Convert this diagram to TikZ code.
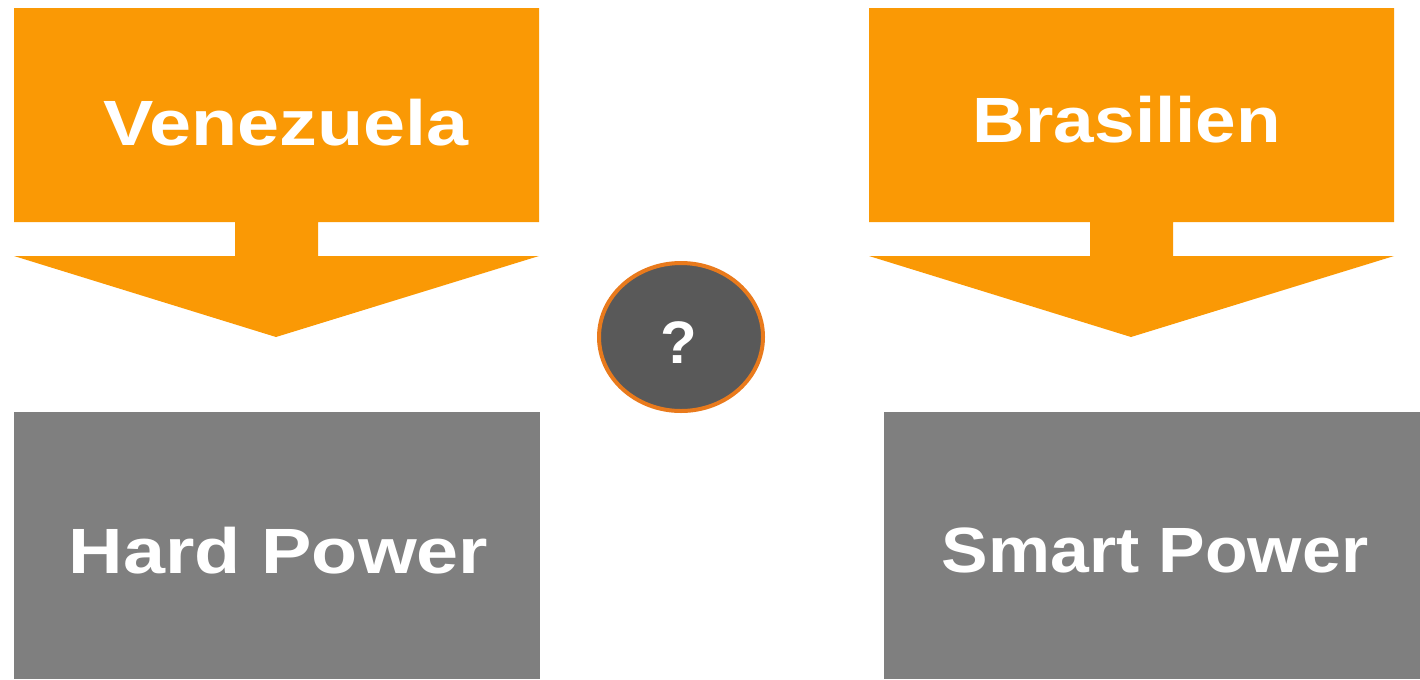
\documentclass[tikz,border=0pt]{standalone}
\usepackage{fontspec}
\setmainfont{Liberation Sans}
\usetikzlibrary{shapes.geometric}
\definecolor{calloutorange}{RGB}{250,153,5}
\definecolor{boxgray}{RGB}{127,127,127}
\definecolor{ballgray}{RGB}{89,89,89}
\definecolor{ringorange}{RGB}{233,122,28}
\newcommand{\widen}[2]{\scalebox{#1}[1]{#2}}
\tikzset{every picture/.style={line width=0.75pt}}
\tikzset{
  callout/.style={fill=calloutorange},
  powerbox/.style={fill=boxgray},
  bigtext/.style={text=white, inner sep=0.75pt, anchor=base, font=\fontsize{48}{54}\selectfont\bfseries},
  askball/.style={ellipse, fill=ballgray, draw=ringorange, line width=3pt, minimum width=123pt, minimum height=111pt, inner sep=0pt},
}

\begin{document}
\begin{tikzpicture}[x=0.75pt,y=0.75pt,yscale=-1,xscale=1]
\useasboundingbox (0,0) rectangle (1420,679);

%Shape: Down Arrow Callout [id:venezuela]
\fill [callout] (14,8) -- (539,8) -- (539,222) -- (318,222) -- (318,256) -- (539,256) -- (276,337) -- (14,256) -- (235,256) -- (235,222) -- (14,222) -- cycle ;
%Shape: Down Arrow Callout [id:brasilien]
\fill [callout] (869,8) -- (1394,8) -- (1394,222) -- (1173,222) -- (1173,256) -- (1394,256) -- (1131,337) -- (869,256) -- (1090,256) -- (1090,222) -- (869,222) -- cycle ;
%Shape: Rectangle [id:hardbox]
\fill [powerbox] (14,412) rectangle (540,679) ;
%Shape: Rectangle [id:smartbox]
\fill [powerbox] (884,412) rectangle (1420,679) ;

% Text Node
\node (ven) [bigtext] at (286,145) {\widen{1.18}{Venezuela}};
% Text Node
\node (bra) [bigtext] at (1127,142) {\widen{1.14}{Brasilien}};
% Text Node
\node (hard) [bigtext] at (278.5,573) {\widen{1.18}{Hard Power}};
% Text Node
\node (smart) [bigtext] at (1155,572) {\widen{1.09}{Smart Power}};
% Ellipse
\node (ask) [askball] at (681,337) {};
\node (mark) [text=white, anchor=base, inner sep=0.75pt, font=\fontsize{45}{50}\selectfont\bfseries] at (679,363) {?};

\end{tikzpicture}
\end{document}
